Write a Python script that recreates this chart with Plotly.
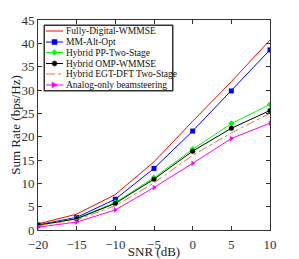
import plotly.graph_objects as go

snr = [-20, -15, -10, -5, 0, 5, 10]
fully_digital = [1.3, 3.4, 7.6, 14.6, 23.3, 31.8, 40.7]
mm_alt_opt = [1.1, 2.7, 6.6, 13.2, 21.2, 29.8, 38.6]
pp_two_stage = [1.0, 2.5, 5.9, 11.2, 17.3, 22.8, 26.9]
omp_wmmse = [1.0, 2.4, 5.7, 10.9, 16.9, 21.8, 25.6]
egt_dft = [0.9, 2.2, 5.2, 10.1, 16.0, 20.8, 25.0]
analog_only = [0.6, 1.7, 4.3, 9.1, 14.3, 19.6, 22.9]
y_ticks = [0, 5, 10, 15, 20, 25, 30, 35, 40, 45]

series = [
    ("Fully-Digital-WMMSE", fully_digital, "#ff0000", "solid", None),
    ("MM-Alt-Opt", mm_alt_opt, "#0000ff", "solid", "square"),
    ("Hybrid PP-Two-Stage", pp_two_stage, "#00ff00", "solid", "diamond"),
    ("Hybrid OMP-WMMSE", omp_wmmse, "#000000", "solid", "circle"),
    ("Hybrid EGT-DFT Two-Stage", egt_dft, "#e8743b", "dashdot", None),
    ("Analog-only beamsteering", analog_only, "#ff00ff", "solid", "triangle-right"),
]

OFF = 8  # page body margin
W, H = 299 - OFF, 259 - OFF
L, R, T, B = 38 - OFF, 29, 20 - OFF, 29
PW, PH = W - L - R, H - T - B


def px(x):
    return (x - OFF - L) / PW


def py(y):
    return (H - B - (y - OFF)) / PH


fig = go.Figure()
for name, vals, color, dash, sym in series:
    fig.add_trace(go.Scatter(
        x=snr, y=vals, name=name,
        mode="lines+markers" if sym else "lines",
        line=dict(color=color, width=1, dash=dash),
        marker=dict(symbol=sym or "circle", size=5, color=color),
        showlegend=False,
    ))

font = "Liberation Serif, Times New Roman, serif"

# Manual compact legend (MATLAB style)
shapes = [dict(type="rect", xref="paper", yref="paper",
               x0=px(44), x1=px(173), y0=py(91), y1=py(25),
               line=dict(color="#333333", width=1), fillcolor="white", layer="above")]
annotations = [dict(x=px(44), y=py(25), xref="paper", yref="paper",
                    xanchor="left", yanchor="top", showarrow=False, text=" ",
                    width=125, height=62, borderpad=1, borderwidth=1,
                    bordercolor="#333333", bgcolor="rgba(0,0,0,0)")]
row_y = [31, 42, 52.5, 63.5, 74, 85]
marker_paths = {
    "square": "M-2.5,-2.5 L2.5,-2.5 L2.5,2.5 L-2.5,2.5 Z",
    "diamond": "M0,3 L3,0 L0,-3 L-3,0 Z",
    "triangle-right": "M3,0 L-2.5,2.8 L-2.5,-2.8 Z",
    "circle": "M2.6,0 L1.84,1.84 L0,2.6 L-1.84,1.84 L-2.6,0 L-1.84,-1.84 L0,-2.6 L1.84,-1.84 Z",
}
for (name, vals, color, dash, sym), ry in zip(series, row_y):
    shapes.append(dict(type="line", xref="paper", yref="paper",
                       x0=px(46), x1=px(63), y0=py(ry), y1=py(ry),
                       line=dict(color=color, width=1, dash=dash), layer="above"))
    if sym:
        shapes.append(dict(type="path", xref="paper", yref="paper",
                           xsizemode="pixel", ysizemode="pixel",
                           xanchor=px(54.5), yanchor=py(ry),
                           path=marker_paths[sym], fillcolor=color,
                           line=dict(color=color, width=0.5), layer="above"))
    annotations.append(dict(x=px(64), y=py(ry), xref="paper", yref="paper",
                            xanchor="left", yanchor="middle", showarrow=False,
                            text=name, font=dict(family=font, size=9.5, color="#111111")))

axis_common = dict(
    showgrid=False, zeroline=False, showline=True, mirror="ticks",
    linecolor="#333333", linewidth=1, ticks="inside", ticklen=4,
    tickcolor="#333333", tickfont=dict(family=font, size=13, color="#333333"),
    automargin=False,
)
fig.update_layout(
    width=W, height=H,
    margin=dict(l=L, r=R, t=T, b=B),
    paper_bgcolor="white", plot_bgcolor="white",
    font=dict(family=font, color="#222222"),
    xaxis=dict(range=[-20, 10], tickvals=snr, ticklabelstandoff=2,
               title=dict(text="SNR (dB)", font=dict(family=font, size=13), standoff=5),
               **axis_common),
    yaxis=dict(range=[0, 45], tickvals=y_ticks,
               title=dict(text="Sum Rate (bps/Hz)", font=dict(family=font, size=13), standoff=4),
               **axis_common),
    shapes=shapes,
    annotations=annotations,
    showlegend=False,
)
fig.write_html("out.html")
